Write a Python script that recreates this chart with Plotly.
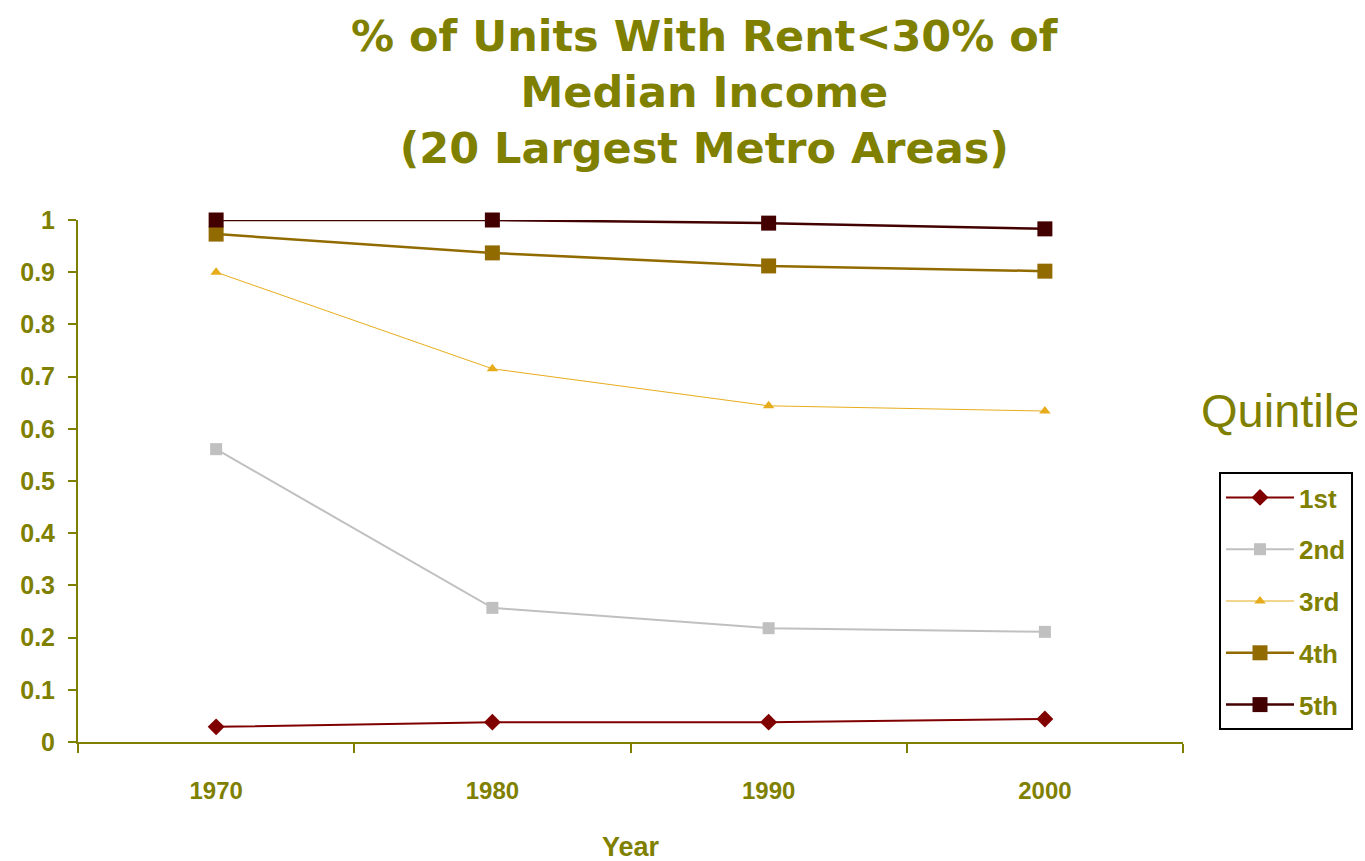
import plotly.graph_objects as go

years = ["1970", "1980", "1990", "2000"]
q1 = [0.029, 0.038, 0.038, 0.044]
q2 = [0.561, 0.257, 0.218, 0.211]
q3 = [0.900, 0.715, 0.644, 0.634]
q4 = [0.973, 0.937, 0.912, 0.902]
q5 = [1.000, 1.000, 0.994, 0.983]
names = ["1st", "2nd", "3rd", "4th", "5th"]
y_ticks = [0, 0.1, 0.2, 0.3, 0.4, 0.5, 0.6, 0.7, 0.8, 0.9, 1]

OLIVE = "#808000"
OFF = 8  # page offset of the figure
L, R, T, B = 78 - OFF, 1183 - OFF, 220 - OFF, 742 - OFF
W, H = 1365, 861


def px_x(px):
    return (px - OFF - L) / (R - L)


def px_y(py):
    return (B - (py - OFF)) / (B - T)


styles = [
    dict(color="#800000", symbol="diamond", size=13, width=2),
    dict(color="#C0C0C0", symbol="square", size=12, width=2),
    dict(color="#E6AC1C", symbol="triangle-up", size=10, width=1),
    dict(color="#926B00", symbol="square", size=15, width=2.5),
    dict(color="#430000", symbol="square", size=15, width=2.5),
]

fig = go.Figure()
for name, vals, st in zip(names, [q1, q2, q3, q4, q5], styles):
    fig.add_trace(go.Scatter(
        x=years, y=vals, name=name, mode="lines+markers",
        line=dict(color=st["color"], width=st["width"]),
        marker=dict(color=st["color"], symbol=st["symbol"], size=st["size"]),
        cliponaxis=False, legendgroup=name,
    ))

fig.update_layout(
    width=W, height=H, autosize=False,
    paper_bgcolor="white", plot_bgcolor="white",
    margin=dict(l=L, r=W - R, t=T, b=H - B, autoexpand=False),
    showlegend=True,
    legend=dict(
        x=px_x(1219), xref="paper", xanchor="left",
        y=px_y(472), yref="paper", yanchor="top",
        bordercolor="black", borderwidth=2, bgcolor="white",
        font=dict(family="Liberation Sans", size=26, color=OLIVE, weight="bold"),
        tracegroupgap=15, itemwidth=68,
    ),
    xaxis=dict(
        type="category", range=[-0.5, 3.5], showgrid=False, zeroline=False,
        showline=True, linecolor=OLIVE, linewidth=2,
        ticks="outside", tickson="boundaries", ticklen=9, tickcolor=OLIVE, tickwidth=1.5,
        tickfont=dict(family="Liberation Sans", size=24, color=OLIVE, weight="bold"),
        ticklabelstandoff=26,
        title=dict(text="Year", standoff=34,
                   font=dict(family="Liberation Sans", size=27, color=OLIVE, weight="bold")),
    ),
    yaxis=dict(
        range=[0, 1], tickvals=y_ticks, ticktext=[f"{v:g}" for v in y_ticks],
        showgrid=False, zeroline=False,
        showline=True, linecolor=OLIVE, linewidth=2,
        ticks="outside", ticklen=8, tickcolor=OLIVE, tickwidth=2,
        tickfont=dict(family="Liberation Sans", size=25, color=OLIVE, weight="bold"),
        ticklabelstandoff=8,
    ),
    annotations=[
        dict(
            text="% of Units With Rent<30% of<br>Median Income<br>(20 Largest Metro Areas)",
            x=px_x(705), xref="paper", xanchor="center",
            y=px_y(9), yref="paper", yanchor="top", showarrow=False,
            font=dict(family="DejaVu Sans", size=43, color=OLIVE, weight="bold"),
        ),
        dict(
            text="Quintile", x=px_x(1280), xref="paper", xanchor="center",
            y=px_y(410), yref="paper", yanchor="middle", showarrow=False,
            font=dict(family="Liberation Sans", size=47, color=OLIVE),
        ),
    ],
)

fig.write_html("out.html")
